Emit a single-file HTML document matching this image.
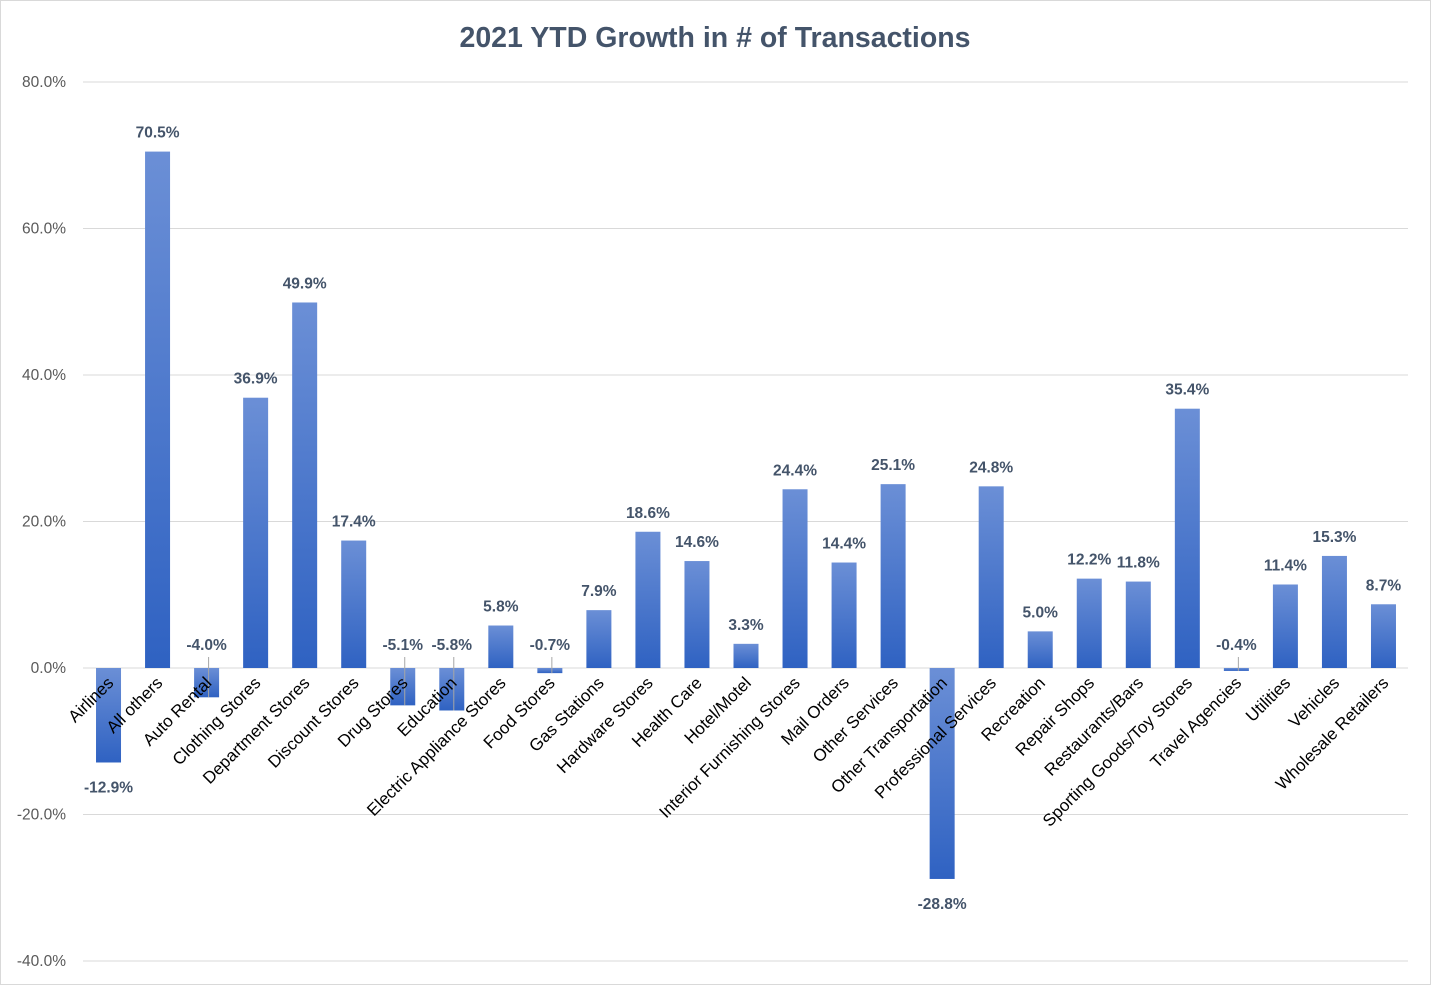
<!DOCTYPE html>
<html><head><meta charset="utf-8"><style>
body{margin:0;background:#fff;}
svg{display:block;font-family:"Liberation Sans",Carlito,sans-serif;}
</style></head><body>
<svg id="chart" width="1431" height="985" viewBox="0 0 1431 985" xmlns="http://www.w3.org/2000/svg">
<defs><linearGradient id="g" x1="0" y1="0" x2="0" y2="1"><stop offset="0" stop-color="#6b8fd6"/><stop offset="1" stop-color="#2f62c2"/></linearGradient></defs>
<rect x="0.5" y="0.5" width="1430" height="984" fill="#fff" stroke="#d9d9d9"/>
<text x="715" y="47" text-anchor="middle" font-size="28.5" font-weight="bold" fill="#44546a">2021 YTD Growth in # of Transactions</text>
<g id="grid"></g><g id="bars"></g><g id="labels"></g>
</svg>
<script>
const categories=["Airlines","All others","Auto Rental","Clothing Stores","Department Stores","Discount Stores","Drug Stores","Education","Electric Appliance Stores","Food Stores","Gas Stations","Hardware Stores","Health Care","Hotel/Motel","Interior Furnishing Stores","Mail Orders","Other Services","Other Transportation","Professional Services","Recreation","Repair Shops","Restaurants/Bars","Sporting Goods/Toy Stores","Travel Agencies","Utilities","Vehicles","Wholesale Retailers"];
const values=[-12.9,70.5,-4.0,36.9,49.9,17.4,-5.1,-5.8,5.8,-0.7,7.9,18.6,14.6,3.3,24.4,14.4,25.1,-28.8,24.8,5.0,12.2,11.8,35.4,-0.4,11.4,15.3,8.7];
const ticks=[-40,-20,0,20,40,60,80];
const NS="http://www.w3.org/2000/svg";
const left=84,right=1408,y0=668,pxPer=146.5/20;
const y=v=>y0-v*pxPer;
const step=(right-left)/categories.length;
const xc=i=>left+step*(i+0.5);
function mk(t,a,p){const e=document.createElementNS(NS,t);for(const k in a)e.setAttribute(k,a[k]);p.appendChild(e);return e;}
const grid=document.getElementById('grid'),bars=document.getElementById('bars'),labs=document.getElementById('labels');
ticks.forEach(t=>{
 const l=mk('line',{x1:left-1,x2:right,y1:y(t),y2:y(t),stroke:'#d9d9d9','stroke-width':1},grid);
 
 
 const tx=mk('text',{x:66,y:y(t)+5,'text-anchor':'end','font-size':15.5,fill:'#595959'},grid);
 tx.textContent=t.toFixed(1)+'%';
 
 
});
values.forEach((v,i)=>{
 const cx=xc(i),w=25;
 const top=Math.min(y(v),y0),h=Math.abs(y(v)-y0);
 const r=mk('rect',{x:cx-w/2,y:top,width:w,height:h,fill:'url(#g)'},bars);
 
 
 let ly;
 if(v>=0){ly=y(v)-14;}
 else if(v>-8){ly=650;
  const ln=mk('line',{x1:cx+2,x2:cx+2,y1:657,y2:y(v),stroke:'#a6a6a6','stroke-width':1},labs);
  
  
 } else {ly=y(v)+30;}
 const t=mk('text',{x:cx,y:ly,'text-anchor':'middle','font-size':15.5,'font-weight':'bold',fill:'#44546a'},labs);
 t.textContent=v.toFixed(1)+'%';
 
 
 const c=mk('text',{x:cx+6,y:684,'text-anchor':'end','font-size':17,fill:'#000',transform:`rotate(-45 ${cx+6} 684)`},labs);
 c.textContent=categories[i];
 
 
});
</script>
</body></html>
